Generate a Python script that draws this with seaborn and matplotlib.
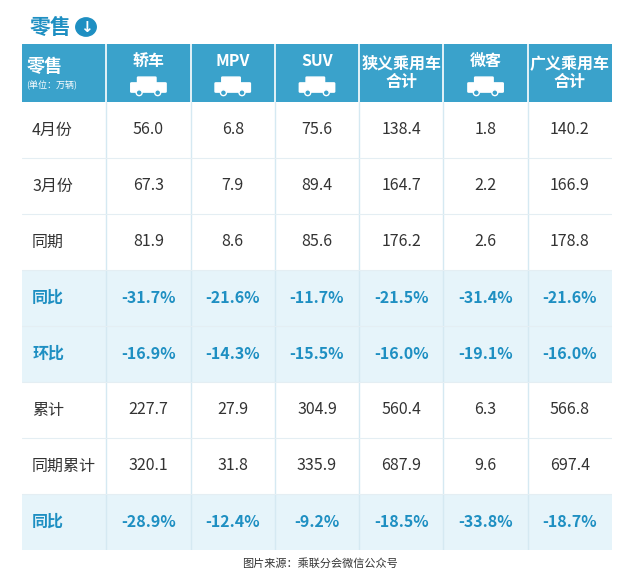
import numpy as np
import pandas as pd
import matplotlib
matplotlib.use('Agg')
import matplotlib.pyplot as plt
import seaborn as sns
from matplotlib.patches import Rectangle, Circle, FancyBboxPatch, Ellipse

sns.set_theme(style='white')
plt.rcParams['font.family'] = ['Noto Sans CJK SC', 'DejaVu Sans']

columns = ['轿车', 'MPV', 'SUV', '狭义乘用车\n合计', '微客', '广义乘用车\n合计']
rows = ['4月份', '3月份', '同期', '同比', '环比', '累计', '同期累计', '同比']
cells = [
    ['56.0', '6.8', '75.6', '138.4', '1.8', '140.2'],
    ['67.3', '7.9', '89.4', '164.7', '2.2', '166.9'],
    ['81.9', '8.6', '85.6', '176.2', '2.6', '178.8'],
    ['-31.7%', '-21.6%', '-11.7%', '-21.5%', '-31.4%', '-21.6%'],
    ['-16.9%', '-14.3%', '-15.5%', '-16.0%', '-19.1%', '-16.0%'],
    ['227.7', '27.9', '304.9', '560.4', '6.3', '566.8'],
    ['320.1', '31.8', '335.9', '687.9', '9.6', '697.4'],
    ['-28.9%', '-12.4%', '-9.2%', '-18.5%', '-33.8%', '-18.7%'],
]
highlight = [0, 0, 0, 1, 1, 0, 0, 1]

W, H = 640, 573
fig = plt.figure(figsize=(6.4, 5.73), dpi=100)
fig.patch.set_facecolor('white')

def fx(px): return px / W
def fy(py): return 1 - py / H

x0, x1 = 22, 612
hy0, hy1 = 44, 102
by1 = 550
blue = '#3aa2cb'
txtblue = '#1e8fc2'

# body as heatmap
ax = fig.add_axes([fx(x0), fy(by1), fx(x1 - x0), (by1 - hy1) / H])
bg = np.repeat(np.array(highlight)[:, None], len(columns) + 1, axis=1)
labels = np.array([[r] + c for r, c in zip(rows, cells)])
cmap = matplotlib.colors.ListedColormap(['#ffffff', '#e6f4fa'])
sns.heatmap(bg, ax=ax, cmap=cmap, cbar=False, annot=False,
            linewidths=0, xticklabels=False, yticklabels=False)
for i in range(len(rows)):
    for j in range(len(columns) + 1):
        hl = highlight[i]
        ax.text(j + (0.12 if j == 0 else 0.5), i + 0.5, labels[i, j],
                ha='left' if j == 0 else 'center', va='center', fontsize=11.5,
                color=txtblue if hl else '#333333', fontweight='bold' if hl else 'normal')
for j in range(1, len(columns) + 1):
    ax.axvline(j, color='#d5e9f2', lw=1)
for i in range(1, len(rows)):
    ax.axhline(i, color='#e4eef3', lw=0.8)

# header
hax = fig.add_axes([fx(x0), fy(hy1), fx(x1 - x0), (hy1 - hy0) / H])
hax.set_xlim(0, len(columns) + 1)
hax.set_ylim(1, 0)
hax.axis('off')
hax.add_patch(Rectangle((0, 0), len(columns) + 1, 1, color=blue))
for j in range(1, len(columns) + 1):
    hax.axvline(j, color='white', lw=1.2)
hax.text(0.05, 0.38, '零售', color='white', fontsize=13, fontweight='bold', va='center')
hax.text(0.05, 0.72, '(单位：万辆)', color='white', fontsize=6.5, va='center')
for j, c in enumerate(columns, start=1):
    two = '\n' in c
    hax.text(j + 0.5, 0.5 if two else 0.3, c, color='white', fontsize=11.5,
             ha='center', va='center', linespacing=1.15, fontweight='bold')
    if not two:
        cx = j + 0.5
        hax.add_patch(FancyBboxPatch((cx - 0.2, 0.68), 0.4, 0.14,
                                     boxstyle='round,pad=0.01', color='white'))
        hax.add_patch(FancyBboxPatch((cx - 0.12, 0.58), 0.2, 0.12,
                                     boxstyle='round,pad=0.01', color='white'))
        for wx in (cx - 0.11, cx + 0.11):
            hax.add_patch(Ellipse((wx, 0.84), 0.07, 0.1, color=blue, ec='white', lw=1))

# title
fig.text(fx(30), fy(27), '零售', color=txtblue, fontsize=15, fontweight='bold', va='center')
fig.patches.append(Circle((fx(86), fy(27)), 0.016, transform=fig.transFigure,
                          color=txtblue, figure=fig))
fig.text(fx(86), fy(28), '↓', color='white', fontsize=11, fontweight='bold',
         ha='center', va='center', family='DejaVu Sans')

fig.text(0.5, fy(563), '图片来源：乘联分会微信公众号', ha='center', va='center',
         fontsize=8, color='#333333')

fig.savefig('out.png', dpi=100, facecolor='white')
